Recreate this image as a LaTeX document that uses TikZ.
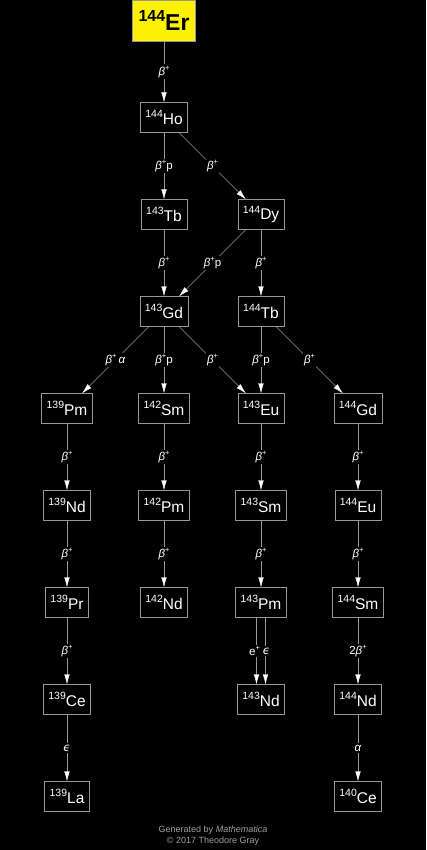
\documentclass[tikz,border=0pt]{standalone}
\usepackage{fontspec}
\setmainfont{Liberation Sans}
\newfontfamily\greekfont{DejaVu Sans}
\usetikzlibrary{arrows.meta}

\definecolor{edge}{RGB}{150,150,150}
\definecolor{foot}{RGB}{160,160,160}
\def\nd{97pt}
\newcommand{\iso}[2]{\raisebox{.42em}{\fontsize{10.5}{10}\selectfont #1}#2}
\newcommand{\bp}{\textit{β}\raisebox{.45em}{\fontsize{7.5}{7}\selectfont +}}
\newcommand{\eps}{{\greekfont\itshape ϵ}}
\tikzset{
  nuc/.style={draw=edge,fill=black,text=white,minimum height=30pt,inner xsep=5pt,font=\fontsize{15.5}{16}\selectfont},
  parent/.style={draw=edge,fill=yellow,text=black,minimum width=63pt,minimum height=41pt,font=\bfseries\fontsize{23}{24}\selectfont},
  decay/.style={draw=edge,-{Latex[length=10pt,width=5.5pt,color=white]}},
  lbl/.style={midway,fill=black,text=white,inner sep=1.5pt,font=\fontsize{11.5}{12}\selectfont}
}

\begin{document}
\begin{tikzpicture}[x=1pt,y=-1pt,node distance=\nd]
  \fill[black] (0,0) rectangle (426,850);
  \useasboundingbox (0,0) rectangle (426,850);
  \node[parent] (er144) at (164,20.5) {\raisebox{.42em}{\fontsize{16}{16}\selectfont 144}Er};
  \node[nuc] (ho144) [below of=er144] {\iso{144}{Ho}};
  \node[nuc] (tb143) [below of=ho144] {\iso{143}{Tb}};
  \node[nuc] (dy144) [right of=tb143] {\iso{144}{Dy}};
  \node[nuc] (gd143) [below of=tb143] {\iso{143}{Gd}};
  \node[nuc] (tb144) [below of=dy144] {\iso{144}{Tb}};
  \node[nuc] (sm142) [below of=gd143] {\iso{142}{Sm}};
  \node[nuc] (pm139) [left of=sm142] {\iso{139}{Pm}};
  \node[nuc] (eu143) [right of=sm142] {\iso{143}{Eu}};
  \node[nuc] (gd144) [right of=eu143] {\iso{144}{Gd}};
  \node[nuc] (nd139) [below of=pm139] {\iso{139}{Nd}};
  \node[nuc] (pm142) [below of=sm142] {\iso{142}{Pm}};
  \node[nuc] (sm143) [below of=eu143] {\iso{143}{Sm}};
  \node[nuc] (eu144) [below of=gd144] {\iso{144}{Eu}};
  \node[nuc] (pr139) [below of=nd139] {\iso{139}{Pr}};
  \node[nuc] (nd142) [below of=pm142] {\iso{142}{Nd}};
  \node[nuc] (pm143) [below of=sm143] {\iso{143}{Pm}};
  \node[nuc] (sm144) [below of=eu144] {\iso{144}{Sm}};
  \node[nuc] (ce139) [below of=pr139] {\iso{139}{Ce}};
  \node[nuc] (nd143) [below of=pm143] {\iso{143}{Nd}};
  \node[nuc] (nd144) [below of=sm144] {\iso{144}{Nd}};
  \node[nuc] (la139) [below of=ce139] {\iso{139}{La}};
  \node[nuc] (ce140) [below of=nd144] {\iso{140}{Ce}};

  % decays
  \draw[decay] (er144) -- (ho144) node[lbl] {\bp};
  \draw[decay] (ho144) -- (tb143) node[lbl] {\bp p};
  \draw[decay] (ho144) -- (dy144) node[lbl] {\bp};
  \draw[decay] (tb143) -- (gd143) node[lbl] {\bp};
  \draw[decay] (dy144) -- (gd143) node[lbl] {\bp p};
  \draw[decay] (dy144) -- (tb144) node[lbl] {\bp};
  \draw[decay] (gd143) -- (pm139) node[lbl] {\bp\,\textit{α}};
  \draw[decay] (gd143) -- (sm142) node[lbl] {\bp p};
  \draw[decay] (gd143) -- (eu143) node[lbl] {\bp};
  \draw[decay] (tb144) -- (eu143) node[lbl] {\bp p};
  \draw[decay] (tb144) -- (gd144) node[lbl] {\bp};
  \draw[decay] (pm139) -- (nd139) node[lbl] {\bp};
  \draw[decay] (sm142) -- (pm142) node[lbl] {\bp};
  \draw[decay] (eu143) -- (sm143) node[lbl] {\bp};
  \draw[decay] (gd144) -- (eu144) node[lbl] {\bp};
  \draw[decay] (nd139) -- (pr139) node[lbl] {\bp};
  \draw[decay] (pm142) -- (nd142) node[lbl] {\bp};
  \draw[decay] (sm143) -- (pm143) node[lbl] {\bp};
  \draw[decay] (eu144) -- (sm144) node[lbl] {\bp};
  \draw[decay] (pr139) -- (ce139) node[lbl] {\bp};
  \draw[decay] ([xshift=-4.5pt]pm143.south) -- ([xshift=-4.5pt]nd143.north) node[lbl,xshift=-2pt] {e\raisebox{.45em}{\fontsize{7.5}{7}\selectfont +}};
  \draw[decay] ([xshift=4.5pt]pm143.south) -- ([xshift=4.5pt]nd143.north) node[lbl,xshift=1pt,inner xsep=.5pt] {\eps};
  \draw[decay] (sm144) -- (nd144) node[lbl] {2\bp};
  \draw[decay] (ce139) -- (la139) node[lbl] {\eps};
  \draw[decay] (nd144) -- (ce140) node[lbl] {\textit{α}};

  \node[text=foot,font=\fontsize{9}{11}\selectfont,align=center] (credit) at (213,836) {Generated by \textit{Mathematica}\\© 2017 Theodore Gray};
\end{tikzpicture}
\end{document}
